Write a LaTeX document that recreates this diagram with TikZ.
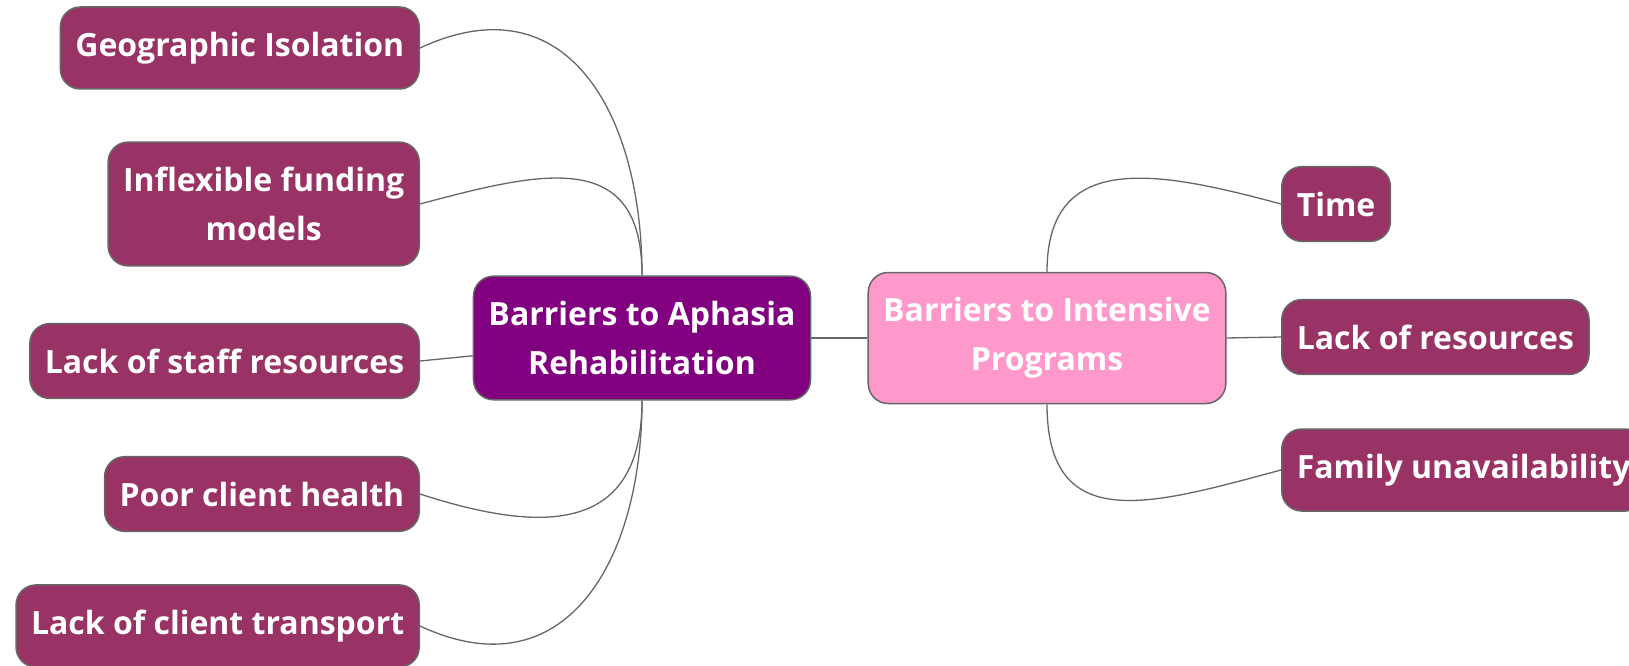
\documentclass[tikz,border=0pt]{standalone}
\usepackage{fontspec}
\setmainfont{Open Sans}
\usetikzlibrary{positioning}

\definecolor{leafcol}{HTML}{993366}
\definecolor{rootcol}{HTML}{800080}
\definecolor{pinkcol}{HTML}{FF99CC}
\definecolor{edgecol}{HTML}{666666}

\tikzset{
    box/.style={draw=edgecol,line width=1.5pt,rounded corners=20pt,text=white,
        font=\fontsize{32}{49}\selectfont\bfseries,align=center,inner xsep=15pt,inner ysep=25pt},
    leaf/.style={box,fill=leafcol},
    link/.style={draw=edgecol,line width=1.3pt}
}

\begin{document}
\begin{tikzpicture}[x=1pt,y=-1pt]
                \useasboundingbox (0,0) rectangle (1629,666);

                \node[box,fill=rootcol] (aph) at(642,338) {Barriers to Aphasia\\Rehabilitation};
                \node[box,fill=pinkcol] (int) at(1047,338) {Barriers to Intensive\\Programs};

                \node[leaf,anchor=east] (geo) at(420,48) {Geographic Isolation};
                \node[leaf,anchor=east] (fund) at(420,204) {Inflexible funding\\models};
                \node[leaf,anchor=east] (staff) at(420,361) {Lack of staff resources};
                \node[leaf,anchor=east] (health) at(420,494) {Poor client health};
                \node[leaf,anchor=east] (trans) at(420,626) {Lack of client transport};

                \node[leaf,anchor=west] (time) at(1281,204) {Time};
                \node[leaf,anchor=west] (res) at(1281,337) {Lack of resources};
                \node[leaf,anchor=west] (fam) at(1281,470) {Family unavailability};

                \draw[link] (aph.north) to[out=90,in=25,looseness=1.3] (geo.east);
                \draw[link] (aph.north) to[out=90,in=15,looseness=1.4] (fund.east);
                \draw[link] (aph.186)--(staff.east);
                \draw[link] (aph.south) to[out=-90,in=-18,looseness=1.4] (health.east);
                \draw[link] (aph.south) to[out=-90,in=-25,looseness=1.3] (trans.east);
                \draw[link] (aph.east)--(int.west);

                \draw[link] (int.north) to[out=90,in=165,looseness=1.3] (time.west);
                \draw[link] (int.east)--(res.west);
                \draw[link] (int.south) to[out=-90,in=195,looseness=1.4] (fam.west);
            \end{tikzpicture}
\end{document}
